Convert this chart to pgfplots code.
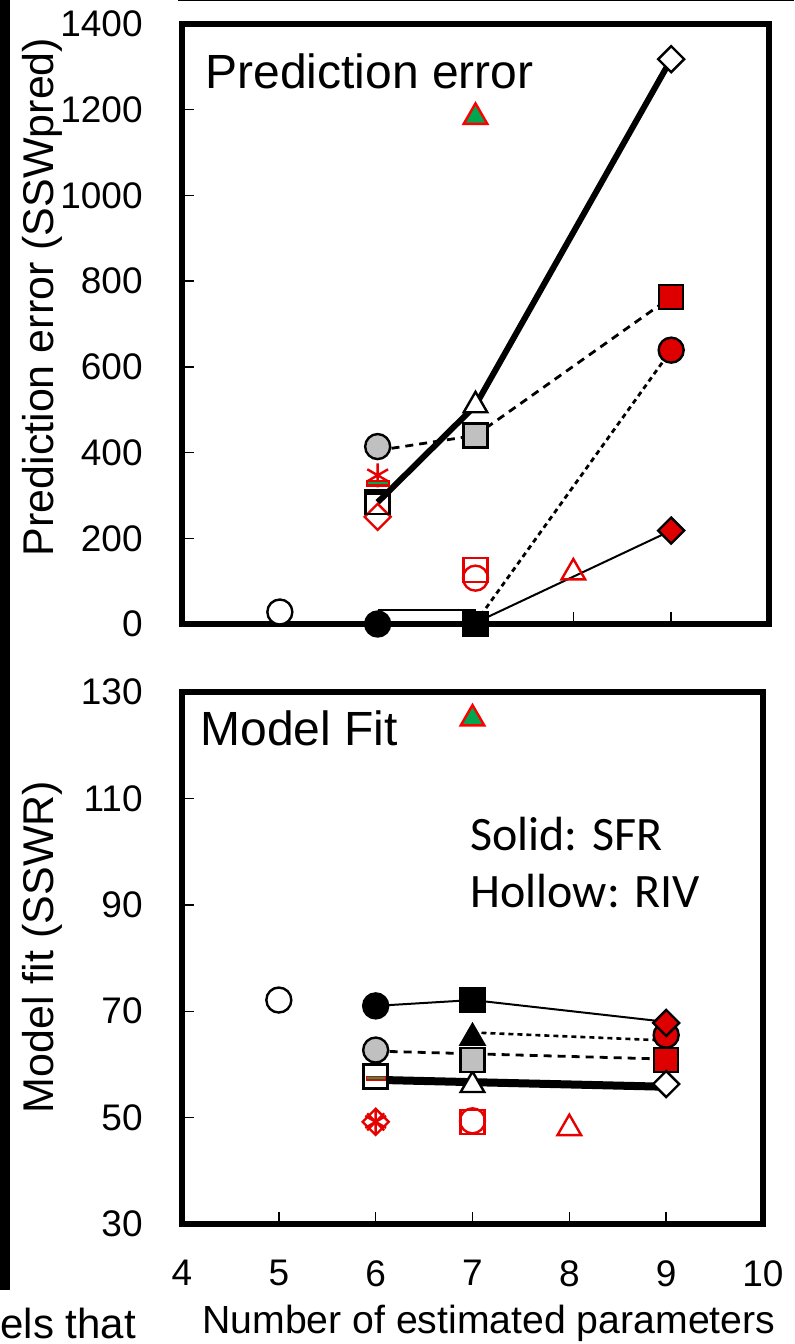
\documentclass[border=0pt]{standalone}
\usepackage{fontspec}
\setmainfont{Liberation Sans}
\newfontfamily\calibri{Carlito}
\usepackage{pgfplots}
\pgfplotsset{compat=1.18}
\definecolor{myred}{RGB}{222,0,0}
\definecolor{hred}{RGB}{230,0,0}
\definecolor{mygray}{RGB}{192,192,192}
\definecolor{mygreen}{RGB}{0,166,80}
\pgfplotsset{
  panel/.style={
    scale only axis, clip=false,
    xmin=4, xmax=10, xtick={4,5,...,10},
    axis line style={line width=3pt},
    tick align=inside, major tick length=6pt,
    tick style={black, line width=0.7pt},
    xtick pos=left, ytick pos=left,
    scaled ticks=false,
    /pgf/number format/1000 sep={},
    /pgf/number format/assume math mode=true,
    ticklabel style={font=\fontsize{18.5}{20}\selectfont},
    yticklabel style={anchor=east, inner sep=0pt, xshift=-19.5pt},
    xticklabel style={anchor=north, inner sep=0pt, yshift=-18pt},
    ylabel style={font=\fontsize{21.5}{24}\selectfont, anchor=center},
    xlabel style={font=\fontsize{19.6}{22}\selectfont, anchor=base},
  },
}
\begin{document}
\begin{tikzpicture}
\useasboundingbox (0,0) rectangle (397pt,-672pt);
% ---------------- top panel ----------------
\begin{axis}[panel, at={(91pt,-312pt)}, anchor=south west,
  width=293.5pt, height=300pt,
  ymin=0, ymax=1400, ytick={0,200,...,1400}, xticklabels={},
  ylabel={Prediction error (SSWpred)},
  ylabel style={at={(axis description cs:-0.2385,0.545)}}]
% lines beneath markers
\addplot[black, line width=1pt, mark=none] coordinates {(6,33) (7,33)};
\addplot[black, line width=1pt, mark=none] coordinates {(7,3) (9,218)};
\addplot[black, line width=1.4pt, dash pattern=on 2.5pt off 2pt, mark=none] coordinates {(7,3) (9,639)};
% markers
\addplot[only marks, mark=*, mark size=6.25pt, mark options={draw=black, fill=white, line width=1.2pt}] coordinates {(5,28)};
\addplot[only marks, mark=*, mark size=6.25pt, mark options={draw=black, fill=black, line width=1.2pt}] coordinates {(6,0)};
\addplot[only marks, mark=square*, mark size=6pt, mark options={draw=black, fill=black, line width=1.2pt}] coordinates {(7,0)};
\addplot[only marks, mark=triangle, mark size=6.8pt, mark options={draw=hred, line width=1.2pt}] coordinates {(8,120)};
\addplot[only marks, mark=square*, mark size=4.6pt, mark options={rotate=45, draw=black, fill=myred, line width=1.2pt}] coordinates {(9,218)};
\addplot[only marks, mark=*, mark size=6.25pt, mark options={draw=black, fill=myred, line width=1.2pt}] coordinates {(9,639)};
\addplot[only marks, mark=*, mark size=6.25pt, mark options={draw=black, fill=mygray, line width=1.2pt}] coordinates {(6,414)};
\addplot[only marks, mark=square*, mark size=6pt, mark options={draw=black, fill=myred, line width=1.2pt}] coordinates {(9,763)};
\addplot[black, line width=1.4pt, dash pattern=on 4pt off 3pt, mark=none] coordinates {(6,405) (7,440) (9,763)};
\addplot[only marks, mark=square*, mark size=6pt, mark options={draw=black, fill=mygray, line width=1.2pt}] coordinates {(7,440)};
% cluster at 6
\addplot[only marks, mark=square*, mark size=4.6pt, mark options={rotate=45, draw=hred, fill=white, line width=1.2pt}] coordinates {(6,250)};
\addplot[only marks, mark=square, mark size=6pt, mark options={draw=black, line width=1.2pt}] coordinates {(6,284)};
\addplot[only marks, mark=asterisk, mark size=6pt, mark options={draw=hred, line width=1.2pt}] coordinates {(6,347)};
\addplot[only marks, mark=-, mark size=6pt, mark options={draw=hred, line width=3.2pt}] coordinates {(6,328)};
\addplot[only marks, mark=-, mark size=5pt, mark options={draw=mygreen, line width=1pt}] coordinates {(6,328)};
\addplot[only marks, mark=-, mark size=6pt, mark options={draw=black, line width=3pt}] coordinates {(6,309)};
% thick line
\addplot[black, line width=3pt, mark=none] coordinates {(6,284) (7,510) (9,1318)};
\addplot[only marks, mark=triangle*, mark size=6.8pt, mark options={draw=black, fill=white, line width=1.2pt}] coordinates {(7,510)};
\addplot[only marks, mark=square*, mark size=4.6pt, mark options={rotate=45, draw=black, fill=white, line width=1.2pt}] coordinates {(9,1318)};
% others
\addplot[only marks, mark=triangle*, mark size=6.8pt, mark options={draw=red, fill=mygreen, line width=1.2pt}] coordinates {(7,1183)};
\addplot[only marks, mark=square, mark size=6pt, mark options={draw=hred, line width=1.2pt}] coordinates {(7,126)};
\addplot[only marks, mark=o, mark size=6.25pt, mark options={draw=hred, line width=1.2pt}] coordinates {(7,107)};
\end{axis}
% ---------------- bottom panel ----------------
\begin{axis}[panel, at={(91pt,-612pt)}, anchor=south west,
  width=290.5pt, height=266pt,
  ymin=30, ymax=130, ytick={30,50,...,130},
  ylabel={Model fit (SSWR)},
  ylabel style={at={(axis description cs:-0.241,0.5207)}},
  xlabel={Number of estimated parameters},
  xlabel style={at={(axis description cs:0.528,-0.205)}}]
\addplot[black, line width=1pt, mark=none] coordinates {(6,71) (7,72.1) (9,68)};
\addplot[only marks, mark=*, mark size=6.25pt, mark options={draw=black, fill=white, line width=1.2pt}] coordinates {(5,72.1)};
\addplot[only marks, mark=*, mark size=6.25pt, mark options={draw=black, fill=black, line width=1.2pt}] coordinates {(6,71)};
\addplot[only marks, mark=square*, mark size=6pt, mark options={draw=black, fill=black, line width=1.2pt}] coordinates {(7,72.1)};
\addplot[only marks, mark=triangle*, mark size=6.8pt, mark options={draw=black, fill=black, line width=1.2pt}] coordinates {(7,65)};
\addplot[only marks, mark=*, mark size=6.25pt, mark options={draw=black, fill=myred, line width=1.2pt}] coordinates {(9,65.5)};
\addplot[only marks, mark=square*, mark size=4.6pt, mark options={rotate=45, draw=black, fill=myred, line width=1.2pt}] coordinates {(9,67.8)};
\addplot[black, line width=1.3pt, dash pattern=on 2.5pt off 2pt, mark=none] coordinates {(7,66) (9,64.5)};
\addplot[only marks, mark=*, mark size=6.25pt, mark options={draw=black, fill=mygray, line width=1.2pt}] coordinates {(6,62.7)};
\addplot[only marks, mark=triangle*, mark size=6.8pt, mark options={draw=black, fill=white, line width=1.2pt}] coordinates {(7,56.1)};
\addplot[only marks, mark=square*, mark size=6pt, mark options={draw=black, fill=mygray, line width=1.2pt}] coordinates {(7,60.8)};
\addplot[only marks, mark=square*, mark size=6pt, mark options={draw=black, fill=myred, line width=1.2pt}] coordinates {(9,60.8)};
\addplot[black, line width=1.4pt, dash pattern=on 4pt off 3pt, mark=none] coordinates {(6,62.5) (7,62) (9,61)};
\addplot[only marks, mark=square*, mark size=6pt, mark options={draw=black, fill=white, line width=1.2pt}] coordinates {(6,57.7)};
\addplot[only marks, mark=-, mark size=5pt, mark options={draw=hred, line width=2.5pt}] coordinates {(6,57.4)};
\addplot[only marks, mark=-, mark size=4.5pt, mark options={draw=mygreen, line width=0.9pt}] coordinates {(6,57.4)};
\addplot[black, line width=4pt, mark=none] coordinates {(6,57.1) (9,55.8)};
\addplot[only marks, mark=square*, mark size=4.6pt, mark options={rotate=45, draw=black, fill=white, line width=1.2pt}] coordinates {(9,56.3)};
% red hollow markers
\addplot[only marks, mark=x, mark size=6pt, mark options={draw=hred, line width=1.2pt}] coordinates {(6,49.2)};
\addplot[only marks, mark=asterisk, mark size=6pt, mark options={draw=hred, line width=1.2pt}] coordinates {(6,49.2)};
\addplot[only marks, mark=square, mark size=4.6pt, mark options={rotate=45, draw=hred, line width=1.2pt}] coordinates {(6,49.2)};
\addplot[only marks, mark=square, mark size=6pt, mark options={draw=hred, line width=1.2pt}] coordinates {(7,49.2)};
\addplot[only marks, mark=o, mark size=6.25pt, mark options={draw=hred, line width=1.2pt}] coordinates {(7,49.4)};
\addplot[only marks, mark=triangle, mark size=6.8pt, mark options={draw=hred, line width=1.2pt}] coordinates {(8,48)};
\addplot[only marks, mark=triangle*, mark size=6.8pt, mark options={draw=red, fill=mygreen, line width=1.2pt}] coordinates {(7,125)};
\end{axis}
% ---------------- texts and frame remnants (pixel units) ----------------
\begin{scope}[x=0.5pt, y=-0.5pt]
\fill[black] (0,0) rectangle (10,1290);
\draw[line width=0.6pt] (178,0.6) -- (794,0.6);
\node[anchor=base west, inner sep=0pt, font=\fontsize{24}{28}\selectfont] at (205,88) {Prediction error};
\node[anchor=base west, inner sep=0pt, font=\fontsize{24}{28}\selectfont] at (200,745) {Model Fit};
\node[anchor=base west, inner sep=0pt, font=\calibri\fontsize{24}{28}\selectfont] at (470,850) {Solid: SFR};
\node[anchor=base west, inner sep=0pt, font=\calibri\fontsize{24}{28}\selectfont] at (470,907) {Hollow: RIV};
\node[anchor=base west, inner sep=0pt, font=\fontsize{21}{24}\selectfont] at (0,1338) {els that};
\end{scope}
\end{tikzpicture}
\end{document}
